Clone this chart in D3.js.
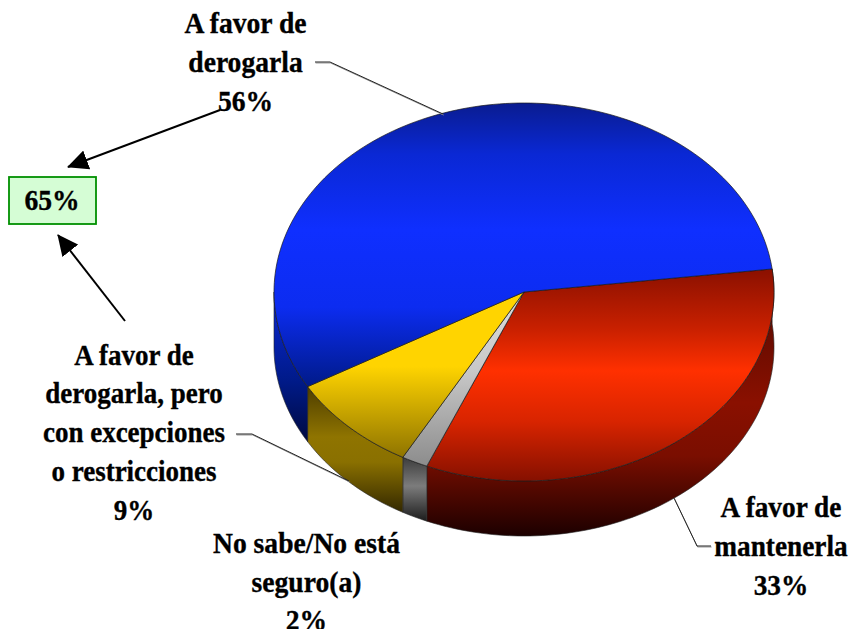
<!DOCTYPE html>
<html><head><meta charset="utf-8">
<script src="https://cdn.jsdelivr.net/npm/d3@7"></script>
<style>html,body{margin:0;padding:0;background:#fff}svg{display:block}
text{font-family:"Liberation Serif",serif;font-weight:bold;fill:#000;stroke:#000;stroke-width:.35;text-anchor:middle}</style>
</head><body><svg id="c" width="851" height="629"></svg>
<script>
const categories = ["A favor de mantenerla","No sabe/No está seguro(a)","A favor de derogarla, pero con excepciones o restricciones","A favor de derogarla"];
const values = [33.3,1.7,8.6,56.4];
const keys = ["red","grey","yellow","blue"];
const topColors = {
  red:[["#8a1000",0],["#c82000",.28],["#ff3000",.48],["#d82400",.72],["#851000",1]],
  grey:[["#dcdcdc",0],["#c8c8c8",.45],["#8c8c8c",1]],
  yellow:[["#ffd400",0],["#ffd400",.45],["#8f7400",1]],
  blue:[["#0a1c90",0],["#0a28d4",.18],["#0f2fff",.45],["#0c2cf0",.72],["#001a88",1]]
};
const sideColors = {
  red:[["#4a0800",0],["#8a1000",.5],["#7a0e00",.7],["#1c0000",1]],
  grey:[["#3c3c3c",0],["#7c7c7c",.45],["#1c1c1c",1]],
  yellow:[["#4d3d00",0],["#8f7400",.4],["#8a7000",.6],["#332800",1]],
  blue:[["#0a28d8",0],["#001a88",.6],["#000a40",1]]
};
const labels = [
  {lines:["A favor de","derogarla","56%"],x:245.5,y:[33,72,111],sx:.92},
  {lines:["65%"],x:52,y:[210],sx:.92},
  {lines:["A favor de","derogarla, pero","con excepciones","o restricciones","9%"],x:134,y:[365,403,442,481,520],sx:.9},
  {lines:["No sabe/No está","seguro(a)","2%"],x:306.5,y:[553,592,630],sx:.92},
  {lines:["A favor de","mantenerla","33%"],x:781,y:[517,556,595],sx:.91}
];
const leaders = [
  [[315,62],[330,62],[443,114]],
  [[236,434],[252,434],[349,481]],
  [[674,498],[697,546],[711,546]]
];
const arrows = [[[220,110],[68,167]],[[125,321],[58,235]]];

const svg = d3.select("#c");
const cx=524, cy=292, rx=250, ry=189, depth=55;
const start = 83*Math.PI/180;
const pie = d3.pie().sort(null).startAngle(start).endAngle(start+2*Math.PI);
const arcs = pie(values);
const px = a=>cx+rx*Math.sin(a), py = a=>cy-ry*Math.cos(a);
const defs = svg.append("defs");
function grad(id,stops,y1,y2){
  const g=defs.append("linearGradient").attr("id",id).attr("gradientUnits","userSpaceOnUse")
    .attr("x1",0).attr("x2",0).attr("y1",y1).attr("y2",y2);
  stops.forEach(s=>g.append("stop").attr("offset",s[1]).attr("stop-color",s[0]));
}
const samples = d=>{const n=Math.max(3,Math.ceil((d.endAngle-d.startAngle)*40));
  return d3.range(n+1).map(i=>d.startAngle+(d.endAngle-d.startAngle)*i/n);};
const PI=Math.PI;
const visible = d=>{
  const lo=Math.max(d.startAngle,PI/2-0.13), hi=Math.min(d.endAngle,3*PI/2);
  return hi>lo?{startAngle:lo,endAngle:hi}:null;
};
const area=d3.area().x(px).y0(py).y1(a=>py(a)+depth);
const gSide=svg.append("g"), gTop=svg.append("g");
arcs.forEach((d,i)=>{
  const k=keys[i], pts=samples(d);
  const ys=pts.map(py).concat([cy]);
  grad("t-"+k,topColors[k],d3.min(ys),d3.max(ys));
  const v=visible(d);
  if(v){
    const sp=samples(v), sy=sp.map(py);
    grad("s-"+k,sideColors[k],d3.min(sy),d3.max(sy)+depth);
    gSide.append("path").attr("d",area(sp)).attr("fill",`url(#s-${k})`)
      .attr("stroke","#222").attr("stroke-width",.6);
  }
});
const line=d3.line();
arcs.forEach((d,i)=>{
  const k=keys[i], pts=samples(d).map(a=>[px(a),py(a)]);
  gTop.append("path").attr("d",line([[cx,cy],...pts])+"Z").attr("fill",`url(#t-${k})`)
    .attr("stroke","#1a1a1a").attr("stroke-width",.7).attr("stroke-linejoin","round");
});
const gLead=svg.append("g").attr("fill","none");
gLead.selectAll("path.pale").data(leaders).join("path").attr("class","pale")
  .attr("d",d=>line(d)).attr("transform","translate(0.6,1)").attr("stroke","#999").attr("stroke-width",1);
gLead.selectAll("path.dark").data(leaders).join("path").attr("class","dark")
  .attr("d",d=>line(d)).attr("stroke","#222").attr("stroke-width",1);
svg.append("rect").attr("x",9).attr("y",177).attr("width",87).attr("height",47)
  .attr("fill","#d5fdd5").attr("stroke","#009000").attr("stroke-width",1.8);
defs.append("marker").attr("id","ah").attr("markerUnits","userSpaceOnUse").attr("viewBox","0 0 21 20")
  .attr("refX",20).attr("refY",10).attr("markerWidth",21).attr("markerHeight",20).attr("orient","auto")
  .append("path").attr("d","M0,0L21,10L0,20Z").attr("fill","#000");
svg.append("g").selectAll("path").data(arrows).join("path")
  .attr("d",d=>line(d)).attr("stroke","#000").attr("stroke-width",2).attr("fill","none").attr("marker-end","url(#ah)");
const gl=svg.append("g");
labels.forEach(l=>l.lines.forEach((t,i)=>gl.append("text")
  .attr("transform",`translate(${l.x},${l.y[i]}) scale(${l.sx},1)`).attr("font-size",30).text(t)));
</script></body></html>
